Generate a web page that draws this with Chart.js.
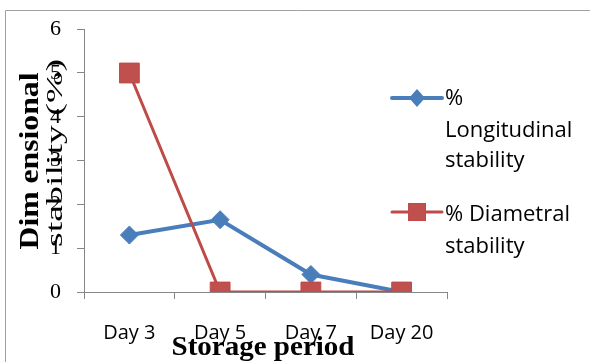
<!DOCTYPE html>
<html>
<head>
<meta charset="utf-8">
<script src="https://cdn.jsdelivr.net/npm/chart.js@4.4.0/dist/chart.umd.min.js"></script>
<style>
  html, body { margin: 0; padding: 0; background: #fff; }
  #wrap { position: relative; width: 590px; height: 362px; overflow: hidden; }
  canvas { display: block; }
</style>
</head>
<body>
<div id="wrap"><canvas id="c" width="590" height="362"></canvas></div>
<script>
const categories = ["Day 3", "Day 5", "Day 7", "Day 20"];
const longitudinal = [1.3, 1.65, 0.4, 0];
const diametral = [5, 0, 0, 0];
const yTicks = [0, 1, 2, 3, 4, 5, 6];
const legendLongitudinal = ["%", "Longitudinal", "stability"];
const legendDiametral = ["% Diametral", "stability"];
const yTitleLines = ["Dim ensional", "stability (%)"];
const xTitle = "Storage period";

const BLUE = "#4a7ebb";
const RED = "#be4b48";
const AXIS = "#868686";

function fitText(ctx, text, x, y, targetW, rot) {
  ctx.save();
  ctx.translate(x, y);
  if (rot) ctx.rotate(rot);
  const w = ctx.measureText(text).width;
  ctx.scale(targetW / w, 1);
  ctx.textAlign = "center";
  ctx.textBaseline = "alphabetic";
  ctx.fillText(text, 0, 0);
  ctx.restore();
}

const decor = {
  id: "decor",
  beforeDraw(chart) {
    const ctx = chart.ctx;
    ctx.save();
    ctx.strokeStyle = "#a0a0a0";
    ctx.lineWidth = 1;
    ctx.beginPath();
    ctx.moveTo(5.5, 362);
    ctx.lineTo(5.5, 10.5);
    ctx.lineTo(590, 10.5);
    ctx.stroke();
    ctx.restore();
  },
  afterDraw(chart) {
    const ctx = chart.ctx;
    ctx.save();
    ctx.fillStyle = "#000";
    // y title
    ctx.font = "bold 27px 'Liberation Serif', 'Times New Roman', serif";
    fitText(ctx, yTitleLines[0], 38, 161, 177, -Math.PI / 2);
    ctx.font = "24px 'Liberation Serif', 'Times New Roman', serif";
    fitText(ctx, yTitleLines[1], 62, 153, 188, -Math.PI / 2);
    // x title
    ctx.font = "bold 27px 'Liberation Serif', 'Times New Roman', serif";
    fitText(ctx, xTitle, 263, 355, 183, 0);

    // legend
    const lx0 = 392, lx1 = 442, tx = 445;
    ctx.strokeStyle = BLUE; ctx.lineWidth = 4; ctx.lineCap = "round";
    ctx.beginPath(); ctx.moveTo(lx0, 98); ctx.lineTo(lx1, 98); ctx.stroke();
    ctx.fillStyle = BLUE;
    ctx.beginPath();
    ctx.moveTo(417, 89); ctx.lineTo(425, 98); ctx.lineTo(417, 107); ctx.lineTo(409, 98);
    ctx.closePath(); ctx.fill();
    ctx.strokeStyle = RED; ctx.lineWidth = 3;
    ctx.beginPath(); ctx.moveTo(lx0, 212); ctx.lineTo(lx1, 212); ctx.stroke();
    ctx.fillStyle = "#c0504d";
    ctx.fillRect(408, 203, 18, 18);
    ctx.strokeStyle = RED; ctx.lineWidth = 1;
    ctx.strokeRect(408.5, 203.5, 17, 17);

    ctx.fillStyle = "#000";
    ctx.font = "22px 'Open Sans', sans-serif";
    ctx.textAlign = "left"; ctx.textBaseline = "alphabetic";
    const blueBase = [105, 137, 167];
    legendLongitudinal.forEach((t, i) => ctx.fillText(t, tx, blueBase[i]));
    const redBase = [221, 253];
    legendDiametral.forEach((t, i) => ctx.fillText(t, tx, redBase[i]));
    ctx.restore();
  }
};

new Chart(document.getElementById("c"), {
  type: "line",
  data: {
    labels: categories,
    datasets: [
      {
        label: "% Longitudinal stability",
        data: longitudinal,
        borderColor: BLUE,
        backgroundColor: BLUE,
        borderWidth: 4,
        pointStyle: "rectRot",
        pointRadius: 9,
        pointBackgroundColor: BLUE,
        pointBorderColor: BLUE,
        pointBorderWidth: 1,
        tension: 0,
        order: 1
      },
      {
        label: "% Diametral stability",
        data: diametral,
        borderColor: RED,
        backgroundColor: "#c0504d",
        borderWidth: 3,
        pointStyle: "rect",
        pointRadius: 14,
        pointBackgroundColor: "#c0504d",
        pointBorderColor: RED,
        pointBorderWidth: 1,
        tension: 0,
        order: 0
      }
    ]
  },
  options: {
    responsive: false,
    animation: false,
    devicePixelRatio: 1,
    layout: { padding: { left: 0, right: 143, top: 25, bottom: 0 } },
    plugins: { legend: { display: false }, tooltip: { enabled: false } },
    scales: {
      x: {
        offset: true,
        grid: { offset: true, drawOnChartArea: false, drawTicks: true, tickLength: 7, color: AXIS },
        border: { color: AXIS, width: 1 },
        ticks: { color: "#000", padding: 22, font: { family: "'Open Sans', sans-serif", size: 20 }, maxRotation: 0, autoSkip: false },
        afterFit(s) { s.height = 70; }
      },
      y: {
        min: 0,
        max: 6,
        afterBuildTicks(s) { s.ticks = yTicks.map(v => ({ value: v })); },
        grid: { drawOnChartArea: false, drawTicks: true, tickLength: 7, color: AXIS },
        border: { color: AXIS, width: 1 },
        ticks: { color: "#000", padding: 16, font: { family: "'Liberation Serif', 'Times New Roman', serif", size: 22 } },
        afterFit(s) { s.width = 84; }
      }
    }
  },
  plugins: [decor]
});
</script>
</body>
</html>
